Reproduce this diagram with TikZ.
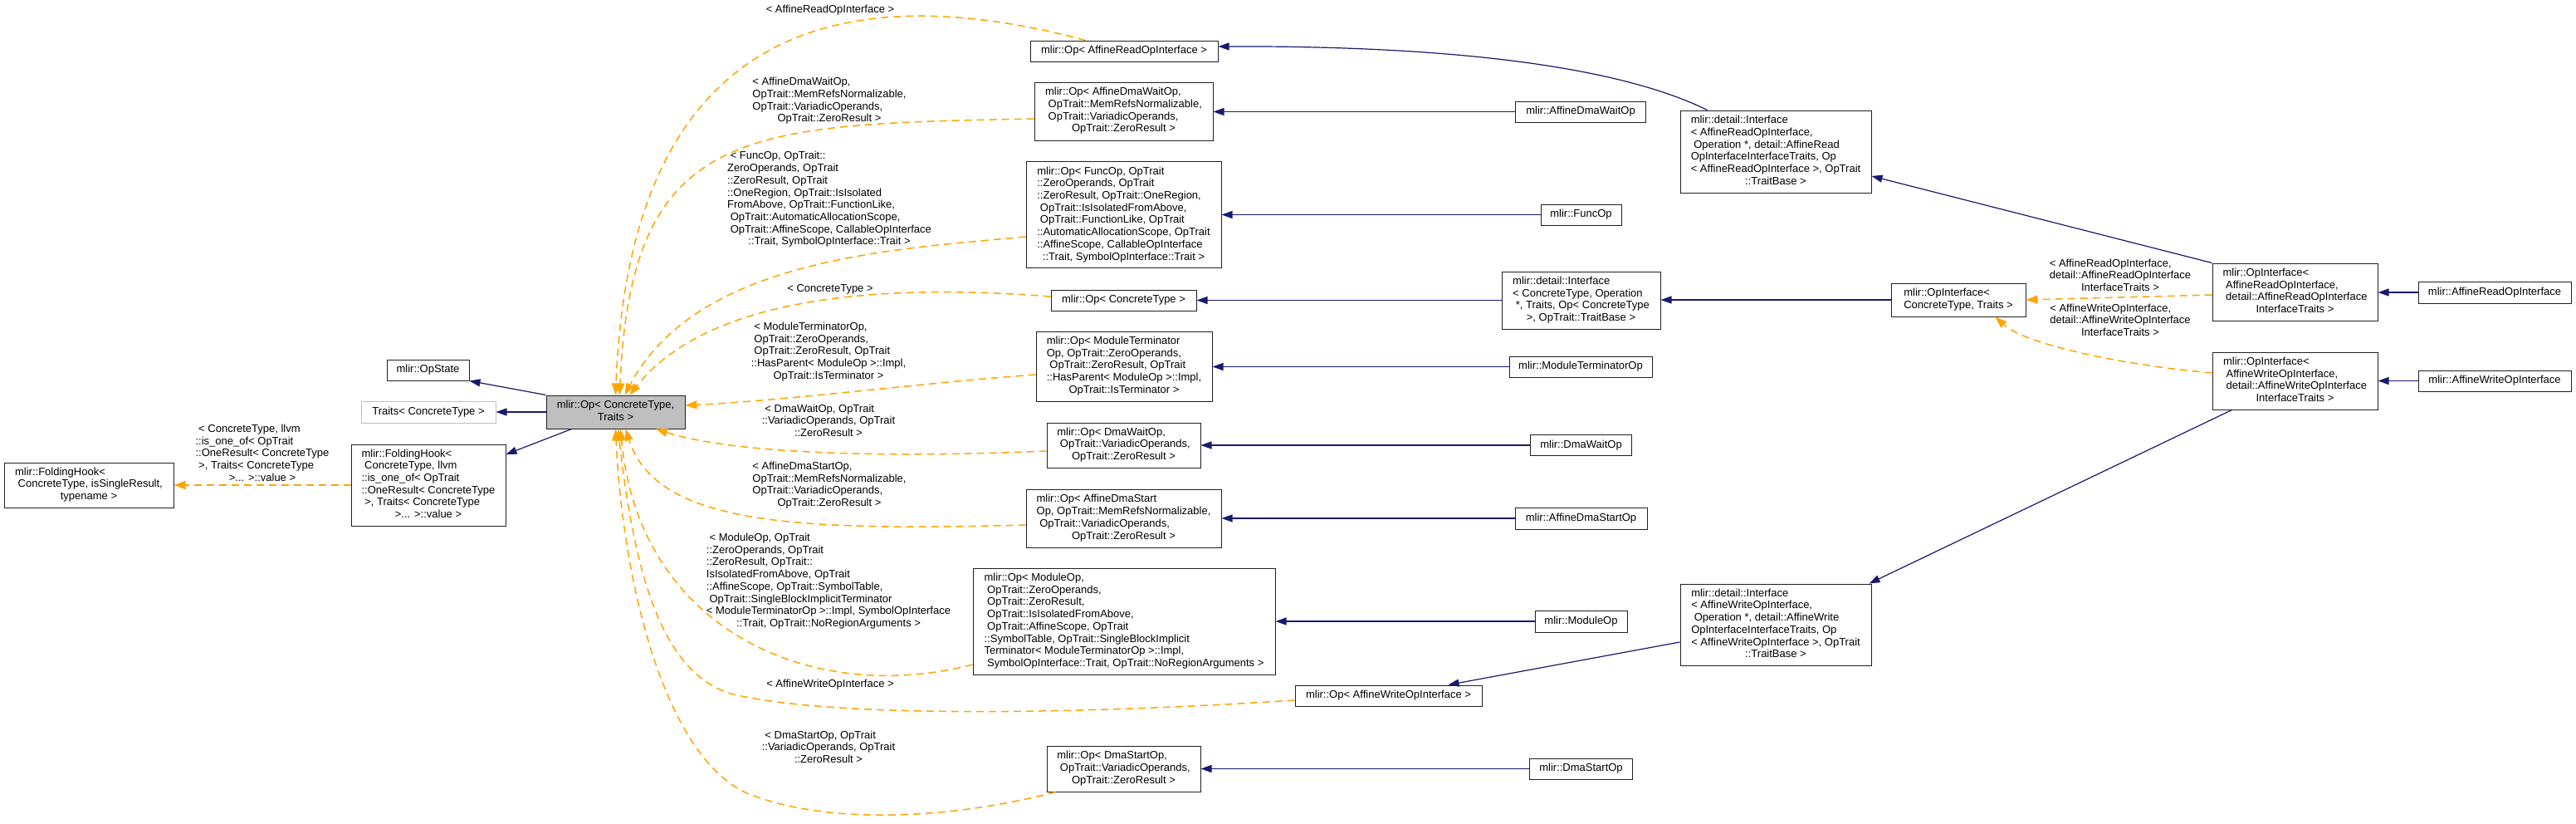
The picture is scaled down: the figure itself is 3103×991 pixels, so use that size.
\documentclass[tikz,border=0pt]{standalone}
\usepackage{fontspec}
\setmainfont{Liberation Sans}
\usetikzlibrary{arrows.meta}
\definecolor{navyc}{HTML}{191970}
\definecolor{orangec}{HTML}{FFA500}
\definecolor{greyc}{HTML}{BFBFBF}
\definecolor{boxc}{HTML}{202020}
\newcommand{\fnt}{\fontsize{13}{14.7}\selectfont}
\newcommand{\ml}[2]{\begin{tabular}{@{}l@{}}#1\\\multicolumn{1}{@{}c@{}}{#2}\end{tabular}}
\begin{document}
\begin{tikzpicture}[x=1pt,y=-1pt,
 box/.style={draw=boxc, line width=1pt, inner sep=0pt, font=\fnt},
 sz/.style n args={2}{minimum width=#1pt, minimum height=#2pt},
 lbl/.style={inner sep=0pt, font=\fnt},
 inh/.style={draw=navyc, line width=1.2pt, -{Triangle[length=13pt,width=9pt]}},
 dep/.style={draw=orangec, line width=1.5pt, dash pattern=on 9pt off 6pt, -{Triangle[length=14pt,width=10pt]}},
]
\fill[white] (0,0) rectangle (3103,991);
\useasboundingbox (0,0) rectangle (3103,991);

% ---------- nodes ----------
\node[box, sz={204}{54}] (fhGen) at (107,584) {\ml{mlir::FoldingHook<\\\ ConcreteType, isSingleResult,}{typename >}};
\node[box, sz={99}{25}] (opState) at (515.5,445.5) {mlir::OpState};
\node[box, draw=greyc, sz={162}{26}] (traits) at (516,496) {Traits< ConcreteType >};
\node[box, sz={186}{98}] (fhSpec) at (516,584) {\ml{mlir::FoldingHook<\\\ ConcreteType, llvm\\::is\_one\_of< OpTrait\\::OneResult< ConcreteType\\\ >, Traits< ConcreteType}{>... >::value >}};
\node[box, fill=greyc, sz={167}{40}] (op) at (741.5,496) {\ml{mlir::Op< ConcreteType,}{Traits >}};

\node[box, sz={226}{25}] (opARead) at (1354,61.5) {mlir::Op< AffineReadOpInterface >};
\node[box, sz={215}{70}] (opADWait) at (1353.5,134) {\ml{mlir::Op< AffineDmaWaitOp,\\\ OpTrait::MemRefsNormalizable,\\\ OpTrait::VariadicOperands,}{OpTrait::ZeroResult >}};
\node[box, sz={235}{128}] (opFunc) at (1353.5,258.7) {\ml{mlir::Op< FuncOp, OpTrait\\::ZeroOperands, OpTrait\\::ZeroResult, OpTrait::OneRegion,\\\ OpTrait::IsIsolatedFromAbove,\\\ OpTrait::FunctionLike, OpTrait\\::AutomaticAllocationScope, OpTrait\\::AffineScope, CallableOpInterface}{::Trait, SymbolOpInterface::Trait >}};
\node[box, sz={175}{25}] (opCT) at (1353.5,361.5) {mlir::Op< ConcreteType >};
\node[box, sz={212}{84}] (opModTerm) at (1354,441) {\ml{mlir::Op< ModuleTerminator\\Op, OpTrait::ZeroOperands,\\\ OpTrait::ZeroResult, OpTrait\\::HasParent< ModuleOp >::Impl,}{OpTrait::IsTerminator >}};
\node[box, sz={185}{54}] (opDmaWait) at (1353.5,536) {\ml{mlir::Op< DmaWaitOp,\\\ OpTrait::VariadicOperands,}{OpTrait::ZeroResult >}};
\node[box, sz={235}{70}] (opADStart) at (1353.5,624) {\ml{mlir::Op< AffineDmaStart\\Op, OpTrait::MemRefsNormalizable,\\\ OpTrait::VariadicOperands,}{OpTrait::ZeroResult >}};
\node[box, sz={364}{128}] (opModule) at (1354,748) {\ml{mlir::Op< ModuleOp,\\\ OpTrait::ZeroOperands,\\\ OpTrait::ZeroResult,\\\ OpTrait::IsIsolatedFromAbove,\\\ OpTrait::AffineScope, OpTrait\\::SymbolTable, OpTrait::SingleBlockImplicit\\Terminator< ModuleTerminatorOp >::Impl,}{\ SymbolOpInterface::Trait, OpTrait::NoRegionArguments >}};
\node[box, sz={225}{25}] (opAWrite) at (1672.5,837.5) {mlir::Op< AffineWriteOpInterface >};
\node[box, sz={185}{55}] (opDmaStart) at (1353.5,925.5) {\ml{mlir::Op< DmaStartOp,\\\ OpTrait::VariadicOperands,}{OpTrait::ZeroResult >}};

\node[box, sz={157}{25}] (cADWait) at (1904,134.5) {mlir::AffineDmaWaitOp};
\node[box, sz={230}{99}] (ifRead) at (2139,182.5) {\ml{mlir::detail::Interface\\< AffineReadOpInterface,\\\ Operation *, detail::AffineRead\\OpInterfaceInterfaceTraits, Op\\< AffineReadOpInterface >, OpTrait}{::TraitBase >}};
\node[box, sz={97}{25}] (cFunc) at (1904.5,258.5) {mlir::FuncOp};
\node[box, sz={191}{69}] (ifCT) at (1904.5,361.5) {\ml{mlir::detail::Interface\\< ConcreteType, Operation\\\ *, Traits, Op< ConcreteType}{>, OpTrait::TraitBase >}};
\node[box, sz={162}{40}] (opIfCT) at (2359,361) {\ml{mlir::OpInterface<}{ConcreteType, Traits >}};
\node[box, sz={172}{25}] (cModTerm) at (1904,441.5) {mlir::ModuleTerminatorOp};
\node[box, sz={122}{25}] (cDmaWait) at (1904.5,536) {mlir::DmaWaitOp};
\node[box, sz={159}{26}] (cADStart) at (1904.5,624) {mlir::AffineDmaStartOp};
\node[box, sz={111}{26}] (cModule) at (1904.5,748) {mlir::ModuleOp};
\node[box, sz={230}{98}] (ifWrite) at (2139,752) {\ml{mlir::detail::Interface\\< AffineWriteOpInterface,\\\ Operation *, detail::AffineWrite\\OpInterfaceInterfaceTraits, Op\\< AffineWriteOpInterface >, OpTrait}{::TraitBase >}};
\node[box, sz={124}{25}] (cDmaStart) at (1904.5,925.5) {mlir::DmaStartOp};

\node[box, sz={199}{69}] (opIfRead) at (2764.5,351.5) {\ml{mlir::OpInterface<\\\ AffineReadOpInterface,\\\ detail::AffineReadOpInterface}{InterfaceTraits >}};
\node[box, sz={199}{69}] (opIfWrite) at (2764.5,458.5) {\ml{mlir::OpInterface<\\\ AffineWriteOpInterface,\\\ detail::AffineWriteOpInterface}{InterfaceTraits >}};
\node[box, sz={184}{26}] (cARead) at (3005,352) {mlir::AffineReadOpInterface};
\node[box, sz={184}{25}] (cAWrite) at (3005,458.5) {mlir::AffineWriteOpInterface};

% ---------- edge labels ----------
\node[lbl] (lFH) at (316,547) {\ml{\ < ConcreteType, llvm\\::is\_one\_of< OpTrait\\::OneResult< ConcreteType\\\ >, Traits< ConcreteType}{>... >::value >}};
\node[lbl] (lARead) at (1000,12) {< AffineReadOpInterface >};
\node[lbl] (lADWait) at (999,122) {\ml{< AffineDmaWaitOp,\\OpTrait::MemRefsNormalizable,\\OpTrait::VariadicOperands,}{OpTrait::ZeroResult >}};
\node[lbl] (lFunc) at (999,240.5) {\ml{\ < FuncOp, OpTrait::\\ZeroOperands, OpTrait\\::ZeroResult, OpTrait\\::OneRegion, OpTrait::IsIsolated\\FromAbove, OpTrait::FunctionLike,\\\ OpTrait::AutomaticAllocationScope,\\\ OpTrait::AffineScope, CallableOpInterface}{::Trait, SymbolOpInterface::Trait >}};
\node[lbl] (lCT) at (1000,348) {< ConcreteType >};
\node[lbl] (lModTerm) at (998,424) {\ml{\ < ModuleTerminatorOp,\\\ OpTrait::ZeroOperands,\\\ OpTrait::ZeroResult, OpTrait\\::HasParent< ModuleOp >::Impl,}{OpTrait::IsTerminator >}};
\node[lbl] (lDmaWait) at (998,508) {\ml{\ < DmaWaitOp, OpTrait\\::VariadicOperands, OpTrait}{::ZeroResult >}};
\node[lbl] (lADStart) at (999,584.5) {\ml{< AffineDmaStartOp,\\OpTrait::MemRefsNormalizable,\\OpTrait::VariadicOperands,}{OpTrait::ZeroResult >}};
\node[lbl] (lModule) at (998,700) {\ml{\ < ModuleOp, OpTrait\\::ZeroOperands, OpTrait\\::ZeroResult, OpTrait::\\IsIsolatedFromAbove, OpTrait\\::AffineScope, OpTrait::SymbolTable,\\\ OpTrait::SingleBlockImplicitTerminator\\< ModuleTerminatorOp >::Impl, SymbolOpInterface}{::Trait, OpTrait::NoRegionArguments >}};
\node[lbl] (lAWrite) at (1000,824) {< AffineWriteOpInterface >};
\node[lbl] (lDmaStart) at (998,901) {\ml{\ < DmaStartOp, OpTrait\\::VariadicOperands, OpTrait}{::ZeroResult >}};
\node[lbl] (lIfRead) at (2554,333) {\ml{< AffineReadOpInterface,\\detail::AffineReadOpInterface}{InterfaceTraits >}};
\node[lbl] (lIfWrite) at (2554,387) {\ml{< AffineWriteOpInterface,\\detail::AffineWriteOpInterface}{InterfaceTraits >}};

% ---------- inheritance edges (solid) ----------
\draw[inh] (op.north west) -- (opState.south east);
\draw[inh] (op.west) -- (traits.east);
\draw[inh] ([xshift=31pt]op.south west) -- ([yshift=37pt]fhSpec.east);
\draw[inh] ([xshift=33pt]ifRead.north west) .. controls (1950,80) and (1750,55) .. ([yshift=5.5pt]opARead.east);
\draw[inh] (cADWait.west) -- (cADWait.west -| opADWait.east);
\draw[inh] (cFunc.west) -- (cFunc.west -| opFunc.east);
\draw[inh] (ifCT.west) -- (ifCT.west -| opCT.east);
\draw[inh] (opIfCT.west) -- (opIfCT.west -| ifCT.east);
\draw[inh] (cModTerm.west) -- (cModTerm.west -| opModTerm.east);
\draw[inh] (cDmaWait.west) -- (cDmaWait.west -| opDmaWait.east);
\draw[inh] (cADStart.west) -- (cADStart.west -| opADStart.east);
\draw[inh] (cModule.west) -- (cModule.west -| opModule.east);
\draw[inh] ([yshift=-21pt]ifWrite.west) -- ([xshift=-41pt]opAWrite.north east);
\draw[inh] (cDmaStart.west) -- (cDmaStart.west -| opDmaStart.east);
\draw[inh] (opIfRead.north west) -- ([yshift=-29.5pt]ifRead.east);
\draw[inh] ([xshift=24pt]opIfWrite.south west) -- ([xshift=-3pt]ifWrite.north east);
\draw[inh] (cARead.west) -- (cARead.west -| opIfRead.east);
\draw[inh] (cAWrite.west) -- (cAWrite.west -| opIfWrite.east);

% ---------- template instantiation edges (dashed) ----------
\draw[dep] (fhSpec.west) -- (fhGen.east);
\draw[dep] ([xshift=67pt]opARead.north west) .. controls (1050,-20) and (760,0) .. (op.north);
\draw[dep] ([yshift=-9pt]opADWait.west) .. controls (900,150) and (760,150) .. ([xshift=5pt]op.north);
\draw[dep] ([yshift=-26.3pt]opFunc.west) .. controls (1080,300) and (840,310) .. ([xshift=11pt]op.north);
\draw[dep] ([yshift=4.5pt]opCT.west) .. controls (1050,340) and (850,360) .. ([xshift=17pt]op.north);
\draw[dep] ([yshift=-10pt]opModTerm.west) .. controls (1100,462) and (950,482) .. ([yshift=8pt]op.east);
\draw[dep] ([yshift=-7pt]opDmaWait.west) .. controls (1050,552) and (880,545) .. ([xshift=48.5pt]op.south);
\draw[dep] ([yshift=-8pt]opADStart.west) .. controls (950,640) and (790,630) .. ([xshift=12pt]op.south);
\draw[dep] ([yshift=-52pt]opModule.west) .. controls (980,850) and (770,760) .. ([xshift=6pt]op.south);
\draw[dep] ([yshift=-5.5pt]opAWrite.west) .. controls (1300,860) and (1000,865) .. (880,835) .. controls (800,810) and (765,700) .. ([xshift=3pt]op.south);
\draw[dep] ([xshift=11pt]opDmaStart.south west) .. controls (1150,985) and (1000,995) .. (900,955) .. controls (800,910) and (750,700) .. (op.south);
\draw[dep] ([yshift=-3.5pt]opIfRead.west) -- (opIfCT.east);
\draw[dep] ([yshift=9.5pt]opIfWrite.west) .. controls (2560,440) and (2440,415) .. ([xshift=-37pt]opIfCT.south east);
\end{tikzpicture}
\end{document}
